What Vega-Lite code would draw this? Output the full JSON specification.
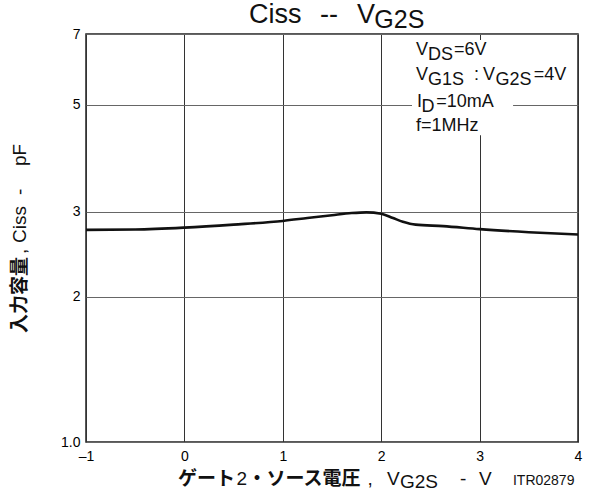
{
  "$schema": "https://vega.github.io/schema/vega-lite/v6.json",
  "width": 492,
  "height": 408,
  "autosize": {"type": "none"},
  "padding": {"left": 86, "top": 34, "right": 21, "bottom": 49},
  "background": "white",
  "config": {"view": {"stroke": "#222", "strokeWidth": 1.5}, "font": "Liberation Sans"},
  "datasets": {
    "curve": [
      {"vg2s": -1, "ciss": 2.75},
      {"vg2s": -0.5, "ciss": 2.755},
      {"vg2s": 0, "ciss": 2.78},
      {"vg2s": 0.5, "ciss": 2.82},
      {"vg2s": 1, "ciss": 2.87},
      {"vg2s": 1.25, "ciss": 2.91},
      {"vg2s": 1.5, "ciss": 2.95},
      {"vg2s": 1.7, "ciss": 2.98},
      {"vg2s": 1.85, "ciss": 2.99},
      {"vg2s": 2.0, "ciss": 2.97},
      {"vg2s": 2.12, "ciss": 2.91},
      {"vg2s": 2.22, "ciss": 2.86},
      {"vg2s": 2.35, "ciss": 2.82},
      {"vg2s": 2.63, "ciss": 2.8},
      {"vg2s": 3, "ciss": 2.76},
      {"vg2s": 3.5, "ciss": 2.72},
      {"vg2s": 4, "ciss": 2.69}
    ],
    "box": [{"x1": 2.313, "x2": 3.34, "y1": 4.32, "y2": 6.8}],
    "txt": [
      {"k": "ann", "t": "V", "x": 2.354, "y": 6.33},
      {"k": "annsub", "t": "DS", "x": 2.476, "y": 6.33},
      {"k": "ann", "t": "=6V", "x": 2.74, "y": 6.33},
      {"k": "ann", "t": "V", "x": 2.354, "y": 5.62},
      {"k": "annsub", "t": "G1S", "x": 2.476, "y": 5.62},
      {"k": "ann", "t": ":", "x": 2.943, "y": 5.62},
      {"k": "ann", "t": "V", "x": 3.035, "y": 5.62},
      {"k": "annsub", "t": "G2S", "x": 3.162, "y": 5.62},
      {"k": "ann", "t": "=4V", "x": 3.55, "y": 5.62},
      {"k": "ann", "t": "I", "x": 2.364, "y": 4.94},
      {"k": "annsub", "t": "D", "x": 2.41, "y": 4.94},
      {"k": "ann", "t": "=10mA", "x": 2.56, "y": 4.94},
      {"k": "ann", "t": "f=1MHz", "x": 2.354, "y": 4.4},
      {"k": "ttl", "t": "Ciss", "x": 0.657, "y": 7.38},
      {"k": "ttl", "t": "--", "x": 1.378, "y": 7.38},
      {"k": "ttl", "t": "V", "x": 1.754, "y": 7.38},
      {"k": "ttlsub", "t": "G2S", "x": 1.93, "y": 7.38},
      {"k": "xjb", "t": "ゲート", "x": -0.065, "y": 0.8145},
      {"k": "xr", "t": "2", "x": 0.53, "y": 0.8145},
      {"k": "xjb", "t": "・ソース電圧", "x": 0.64, "y": 0.8145},
      {"k": "xr", "t": ",", "x": 1.86, "y": 0.8145},
      {"k": "xr", "t": "V", "x": 2.059, "y": 0.8145},
      {"k": "xrsub", "t": "G2S", "x": 2.19, "y": 0.8145},
      {"k": "xr", "t": "-", "x": 2.801, "y": 0.8145},
      {"k": "xr", "t": "V", "x": 2.994, "y": 0.8145},
      {"k": "itr", "t": "ITR02879", "x": 3.339, "y": 0.8145},
      {"k": "yjb", "t": "入力容量", "x": -1.671, "y": 1.682},
      {"k": "yr", "t": ",", "x": -1.671, "y": 2.452},
      {"k": "yr", "t": "Ciss", "x": -1.671, "y": 2.584},
      {"k": "yr", "t": "-", "x": -1.671, "y": 3.248},
      {"k": "yr", "t": "pF", "x": -1.671, "y": 3.729}
    ]
  },
  "layer": [
    {
      "data": {"name": "box"},
      "mark": {"type": "rect", "fill": "white", "stroke": null},
      "encoding": {
        "x": {"field": "x1", "type": "quantitative", "scale": {"domain": [-1, 4], "nice": false, "zero": false},
          "axis": {"values": [-1, 0, 1, 2, 3, 4], "title": null, "domain": false, "ticks": false, "grid": true, "gridColor": "#333", "gridWidth": 1, "gridOpacity": 1, "labelFontSize": 14, "labelColor": "#000", "labelPadding": 7, "labelFlush": false, "labelOverlap": false, "labelExpr": "datum.value == -1 ? '–1' : '' + datum.value"}},
        "x2": {"field": "x2"},
        "y": {"field": "y1", "type": "quantitative", "scale": {"type": "log", "domain": [1, 7], "nice": false},
          "axis": {"values": [1, 2, 3, 5, 7], "title": null, "domain": false, "ticks": false, "grid": true, "gridColor": "#666", "gridWidth": 1, "gridOpacity": 1, "labelFontSize": 14, "labelColor": "#000", "labelPadding": 6, "labelFlush": false, "labelOverlap": false, "labelExpr": "datum.value == 1 ? '1.0' : '' + datum.value"}},
        "y2": {"field": "y2"}
      }
    },
    {
      "data": {"name": "curve"},
      "mark": {"type": "line", "color": "#111", "strokeWidth": 2.6, "interpolate": "monotone"},
      "encoding": {
        "x": {"field": "vg2s", "type": "quantitative", "scale": {"domain": [-1, 4], "nice": false, "zero": false}},
        "y": {"field": "ciss", "type": "quantitative", "scale": {"type": "log", "domain": [1, 7], "nice": false}}
      }
    },
    {
      "data": {"name": "txt"},
      "transform": [{"filter": "datum.k == 'ann'"}],
      "mark": {"type": "text", "align": "left", "baseline": "alphabetic", "fontSize": 18, "font": "Liberation Sans", "color": "#111"},
      "encoding": {
        "x": {"field": "x", "type": "quantitative", "scale": {"domain": [-1, 4], "nice": false, "zero": false}},
        "y": {"field": "y", "type": "quantitative", "scale": {"type": "log", "domain": [1, 7], "nice": false}},
        "text": {"field": "t"}
      }
    },
    {
      "data": {"name": "txt"},
      "transform": [{"filter": "datum.k == 'annsub'"}],
      "mark": {"type": "text", "align": "left", "baseline": "alphabetic", "fontSize": 18, "dy": 4.5, "font": "Liberation Sans", "color": "#111"},
      "encoding": {
        "x": {"field": "x", "type": "quantitative", "scale": {"domain": [-1, 4], "nice": false, "zero": false}},
        "y": {"field": "y", "type": "quantitative", "scale": {"type": "log", "domain": [1, 7], "nice": false}},
        "text": {"field": "t"}
      }
    },
    {
      "data": {"name": "txt"},
      "transform": [{"filter": "datum.k == 'ttl'"}],
      "mark": {"type": "text", "align": "left", "baseline": "alphabetic", "fontSize": 27, "font": "Liberation Sans", "color": "#111"},
      "encoding": {
        "x": {"field": "x", "type": "quantitative", "scale": {"domain": [-1, 4], "nice": false, "zero": false}},
        "y": {"field": "y", "type": "quantitative", "scale": {"type": "log", "domain": [1, 7], "nice": false}},
        "text": {"field": "t"}
      }
    },
    {
      "data": {"name": "txt"},
      "transform": [{"filter": "datum.k == 'ttlsub'"}],
      "mark": {"type": "text", "align": "left", "baseline": "alphabetic", "fontSize": 25, "dy": 5, "font": "Liberation Sans", "color": "#111"},
      "encoding": {
        "x": {"field": "x", "type": "quantitative", "scale": {"domain": [-1, 4], "nice": false, "zero": false}},
        "y": {"field": "y", "type": "quantitative", "scale": {"type": "log", "domain": [1, 7], "nice": false}},
        "text": {"field": "t"}
      }
    },
    {
      "data": {"name": "txt"},
      "transform": [{"filter": "datum.k == 'xjb'"}],
      "mark": {"type": "text", "align": "left", "baseline": "alphabetic", "fontSize": 19, "fontWeight": "bold", "font": "Noto Sans CJK JP", "color": "#111"},
      "encoding": {
        "x": {"field": "x", "type": "quantitative", "scale": {"domain": [-1, 4], "nice": false, "zero": false}},
        "y": {"field": "y", "type": "quantitative", "scale": {"type": "log", "domain": [1, 7], "nice": false}},
        "text": {"field": "t"}
      }
    },
    {
      "data": {"name": "txt"},
      "transform": [{"filter": "datum.k == 'xr'"}],
      "mark": {"type": "text", "align": "left", "baseline": "alphabetic", "fontSize": 19, "font": "Liberation Sans", "color": "#111"},
      "encoding": {
        "x": {"field": "x", "type": "quantitative", "scale": {"domain": [-1, 4], "nice": false, "zero": false}},
        "y": {"field": "y", "type": "quantitative", "scale": {"type": "log", "domain": [1, 7], "nice": false}},
        "text": {"field": "t"}
      }
    },
    {
      "data": {"name": "txt"},
      "transform": [{"filter": "datum.k == 'xrsub'"}],
      "mark": {"type": "text", "align": "left", "baseline": "alphabetic", "fontSize": 19, "dy": 2.5, "font": "Liberation Sans", "color": "#111"},
      "encoding": {
        "x": {"field": "x", "type": "quantitative", "scale": {"domain": [-1, 4], "nice": false, "zero": false}},
        "y": {"field": "y", "type": "quantitative", "scale": {"type": "log", "domain": [1, 7], "nice": false}},
        "text": {"field": "t"}
      }
    },
    {
      "data": {"name": "txt"},
      "transform": [{"filter": "datum.k == 'itr'"}],
      "mark": {"type": "text", "align": "left", "baseline": "alphabetic", "fontSize": 14, "font": "Liberation Sans", "color": "#111"},
      "encoding": {
        "x": {"field": "x", "type": "quantitative", "scale": {"domain": [-1, 4], "nice": false, "zero": false}},
        "y": {"field": "y", "type": "quantitative", "scale": {"type": "log", "domain": [1, 7], "nice": false}},
        "text": {"field": "t"}
      }
    },
    {
      "data": {"name": "txt"},
      "transform": [{"filter": "datum.k == 'yjb'"}],
      "mark": {"type": "text", "align": "left", "baseline": "middle", "angle": 270, "fontSize": 19, "fontWeight": "bold", "font": "Noto Sans CJK JP", "color": "#111"},
      "encoding": {
        "x": {"field": "x", "type": "quantitative", "scale": {"domain": [-1, 4], "nice": false, "zero": false}},
        "y": {"field": "y", "type": "quantitative", "scale": {"type": "log", "domain": [1, 7], "nice": false}},
        "text": {"field": "t"}
      }
    },
    {
      "data": {"name": "txt"},
      "transform": [{"filter": "datum.k == 'yr'"}],
      "mark": {"type": "text", "align": "left", "baseline": "middle", "angle": 270, "fontSize": 19, "font": "Liberation Sans", "color": "#111"},
      "encoding": {
        "x": {"field": "x", "type": "quantitative", "scale": {"domain": [-1, 4], "nice": false, "zero": false}},
        "y": {"field": "y", "type": "quantitative", "scale": {"type": "log", "domain": [1, 7], "nice": false}},
        "text": {"field": "t"}
      }
    }
  ]
}
